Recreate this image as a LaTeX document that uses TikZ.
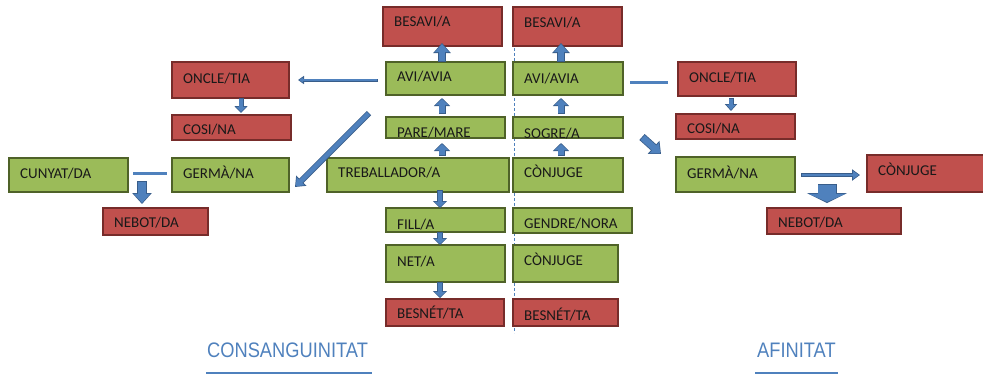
\documentclass[tikz,border=0pt]{standalone}
\usepackage{fontspec}
\setmainfont{Carlito}
\newfontfamily\labfont{Liberation Sans}
\usetikzlibrary{arrows.meta,calc}
\definecolor{rfill}{HTML}{C0504D}
\definecolor{rdraw}{HTML}{772C2A}
\definecolor{gfill}{HTML}{9BBB59}
\definecolor{gdraw}{HTML}{4F6228}
\definecolor{bl}{HTML}{4F81BD}
\definecolor{bld}{HTML}{385D8A}
\newcommand\drawbox[8]{%
  \node[#2, anchor=north west, minimum width={(#5-#3)*1pt}, minimum height={(#6-#4)*1pt}] (#1) at (#3,#4) {};
  \node[txt, anchor=base west] (#1t) at (#3+11,#7) {#8};}
\newcommand\barrow[5]{%
  \pgfmathsetmacro\bwi{#1-1.6}\pgfmathsetmacro\bhi{#2-3.2}\pgfmathsetmacro\bli{#3-2}%
  \draw[draw=bld, line width=#1pt, -{Triangle[width=#2pt,length=#3pt]}] #4 -- #5;
  \draw[draw=bl, line width=\bwi pt, shorten >=1.1pt, shorten <=0.8pt, -{Triangle[width=\bhi pt,length=\bli pt]}] #4 -- #5;}
\begin{document}
\begin{tikzpicture}[x=1pt,y=-1pt,
  redbox/.style={draw=rdraw, fill=rfill, line width=2.5pt, inner sep=0pt, outer sep=0pt},
  greenbox/.style={draw=gdraw, fill=gfill, line width=2.5pt, inner sep=0pt, outer sep=0pt},
  txt/.style={font=\fontsize{15}{15}\selectfont, text=black!90, inner sep=0pt},
  lab/.style={font=\labfont\fontsize{21}{21}\selectfont, text=bl, inner sep=0pt},
  conn/.style={draw=bl, line width=3pt}]
\useasboundingbox (0,0) rectangle (983,376);
\clip (0,0) rectangle (983,376);
% dashed separator
\draw[bl, dash pattern=on 3pt off 2pt, line width=0.8pt] (514,8) -- (514,333);
% centre left column
\drawbox{besavil}{redbox}{383}{7}{502}{46}{26}{BESAVI/A}
\drawbox{avil}{greenbox}{386}{62}{505}{95}{81}{AVI/AVIA}
\drawbox{parel}{greenbox}{386}{117}{505}{138}{137}{PARE/MARE}
\drawbox{treb}{greenbox}{327}{158}{509}{192}{177}{TREBALLADOR/A}
\drawbox{filll}{greenbox}{386}{208}{505}{232}{229}{FILL/A}
\drawbox{netl}{greenbox}{386}{245}{505}{282}{266}{NET/A}
\drawbox{besnetl}{redbox}{386}{299}{504}{326}{318}{BESNÉT/TA}
% centre right column
\drawbox{besavir}{redbox}{513}{7}{622}{46}{27}{BESAVI/A}
\drawbox{avir}{greenbox}{513}{62}{623}{95}{83}{AVI/AVIA}
\drawbox{sogre}{greenbox}{513}{117}{623}{138}{138}{SOGRE/A}
\drawbox{conjc}{greenbox}{513}{158}{623}{192}{177}{CÒNJUGE}
\drawbox{gendre}{greenbox}{513}{208}{632}{233}{228}{GENDRE/NORA}
\drawbox{conjb}{greenbox}{513}{245}{618}{282}{265}{CÒNJUGE}
\drawbox{besnetr}{redbox}{513}{299}{618}{326}{320}{BESNÉT/TA}
% left side
\drawbox{onclel}{redbox}{172}{62}{289}{98}{83}{ONCLE/TIA}
\drawbox{cosil}{redbox}{172}{115}{291}{140}{134}{COSI/NA}
\drawbox{cunyat}{greenbox}{9}{158}{128}{192}{178}{CUNYAT/DA}
\drawbox{germal}{greenbox}{172}{158}{289}{192}{178}{GERMÀ/NA}
\drawbox{nebotl}{redbox}{103}{208}{208}{235}{227}{NEBOT/DA}
% right side
\drawbox{oncler}{redbox}{678}{62}{796}{96}{82}{ONCLE/TIA}
\drawbox{cosir}{redbox}{676}{114}{795}{139}{133}{COSI/NA}
\drawbox{germar}{greenbox}{676}{157}{795}{192}{178}{GERMÀ/NA}
\drawbox{conjr}{redbox}{867}{155}{990}{192}{175}{CÒNJUGE}
\drawbox{nebotr}{redbox}{767}{208}{901}{234}{227}{NEBOT/DA}
% helper x positions
\coordinate (xl) at (442,0);
\coordinate (xr) at (561,0);
\coordinate (xd) at (440,0);
\coordinate (xo) at (241,0);
\coordinate (xo2) at (731,0);
\coordinate (xn) at (142,0);
\coordinate (xf) at (827,0);
% centre arrows (left)
\barrow{8}{17}{10}{(avil.north -| xl)}{($(besavil.south -| xl)+(0,-3)$)}
\barrow{7}{16}{8}{($(parel.north -| xl)+(0,-3)$)}{($(avil.south -| xl)+(0,3)$)}
\barrow{7}{16}{8}{($(treb.north -| xl)+(0,-2)$)}{($(parel.south -| xl)+(0,5)$)}
\barrow{6}{14}{7}{($(treb.south -| xd)+(0,-2)$)}{(filll.north -| xd)}
\barrow{6}{14}{7}{(filll.south -| xd)}{(netl.north -| xd)}
\barrow{6}{14}{7}{(netl.south -| xd)}{($(besnetl.north -| xd)+(0,-1)$)}
% centre arrows (right)
\barrow{8}{17}{10}{(avir.north -| xr)}{($(besavir.south -| xr)+(0,-3)$)}
\barrow{7}{16}{8}{($(sogre.north -| xr)+(0,-3)$)}{($(avir.south -| xr)+(0,3)$)}
\barrow{7}{16}{8}{($(conjc.north -| xr)+(0,-2)$)}{($(sogre.south -| xr)+(0,5)$)}
% left side connectors
\barrow{3}{8}{6}{($(avil.west |- onclel.east)+(-8,0)$)}{($(onclel.east)+(9,0)$)}
\barrow{5}{13}{7}{(onclel.south -| xo)}{($(cosil.north -| xo)+(0,-2)$)}
\coordinate (dstart) at (369,113);
\barrow{6}{14}{9}{(dstart)}{($(germal.east)+(6,12)$)}
\draw[conn] ($(cunyat.east)+(5,-2)$) -- ($(germal.west)+(-5,-2)$);
\barrow{10}{19}{11}{($(cunyat.east -| xn)+(0,6)$)}{($(nebotl.north -| xn)+(0,-4)$)}
% right side connectors
\draw[conn] ($(avir.east)+(7,3.5)$) -- ($(oncler.west)+(-10,3)$);
\barrow{5}{12}{7}{($(oncler.south -| xo2)+(0,2)$)}{($(cosir.north -| xo2)+(0,-3)$)}
\coordinate (dstart2) at (642,137);
\barrow{8}{17}{10}{(dstart2)}{($(germar.north west)+(-15,-3)$)}
\barrow{4}{11}{8}{($(germar.east)+(6,0.5)$)}{($(conjr.west)+(-7,1.5)$)}
\barrow{19}{40}{10}{($(germar.south -| xf)+(0,-8)$)}{($(nebotr.north -| xf)+(0,-5)$)}
% bottom labels
\node[lab, anchor=base west] (cons) at (207,357) {\scalebox{0.87}[1]{CONSANGUINITAT}};
\node[lab, anchor=base west] (afin) at (757,357) {\scalebox{0.87}[1]{AFINITAT}};
\draw[bl, line width=2pt] (206,373) -- (372,373);
\draw[bl, line width=2pt] (755,373) -- (838,373);
\end{tikzpicture}
\end{document}
